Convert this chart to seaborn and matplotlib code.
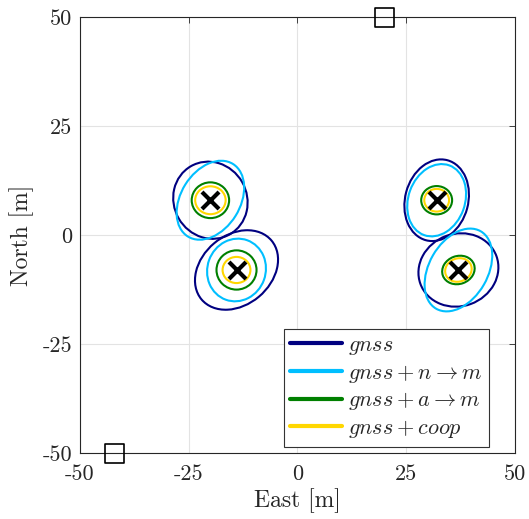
import numpy as np
import pandas as pd
import matplotlib
matplotlib.use('Agg')
import matplotlib.pyplot as plt
from matplotlib.patches import Ellipse
from matplotlib.lines import Line2D
import seaborn as sns

# agent positions [m]
agent_east = [-20, -14, 32, 37]
agent_north = [8, -8, 8, -8]

# anchor positions [m]
anchor_east = [20, -42]
anchor_north = [50, -50]

tick_vals = [-50, -25, 0, 25, 50]
tick_labels = ['-50', '-25', '0', '25', '50']

methods = ['gnss', 'gnss_n', 'gnss_a', 'coop']
labels = [r'$gnss$', r'$gnss + n \rightarrow m$', r'$gnss + a \rightarrow m$', r'$gnss + coop$']
colors = ['#000080', '#00BFFF', '#008000', '#FFD700']

# error ellipses per method: full width, full height [m], angle [deg], one per agent
ell_width = {
    'gnss':   [18.0, 21.0, 19.0, 18.6],
    'gnss_n': [19.6, 14.5, 17.0, 20.5],
    'gnss_a': [8.6, 9.2, 7.1, 7.6],
    'coop':   [7.0, 6.4, 5.7, 6.2],
}
ell_height = {
    'gnss':   [16.8, 16.0, 14.5, 16.6],
    'gnss_n': [13.6, 13.4, 13.0, 13.5],
    'gnss_a': [8.2, 9.0, 6.5, 6.4],
    'coop':   [6.4, 6.0, 5.2, 5.3],
}
ell_angle = {
    'gnss':   [120, 40, 75, 20],
    'gnss_n': [58, 70, 70, 60],
    'gnss_a': [0, 0, 0, 20],
    'coop':   [0, 0, 0, 20],
}

sns.set_style('white')
plt.rcParams['font.family'] = 'serif'
plt.rcParams['font.serif'] = ['cmr10', 'DejaVu Serif']
plt.rcParams['mathtext.fontset'] = 'cm'

fig = plt.figure(figsize=(5.29, 5.19), dpi=100)
ax = fig.add_axes([0.151, 0.127, 0.8225, 0.84])

# ellipses
for m, c in zip(methods, colors):
    for i in range(len(agent_east)):
        ax.add_patch(Ellipse((agent_east[i], agent_north[i]), ell_width[m][i], ell_height[m][i],
                             angle=ell_angle[m][i], fill=False, edgecolor=c, lw=1.5))

agents = pd.DataFrame({'east': agent_east, 'north': agent_north})
anchors = pd.DataFrame({'east': anchor_east, 'north': anchor_north})

sns.scatterplot(data=agents, x='east', y='north', marker='x', s=150,
                color='black', linewidth=3, ax=ax, zorder=5)
sns.scatterplot(data=anchors, x='east', y='north', marker='s', s=190,
                facecolor='none', edgecolor='black', linewidth=1.2, ax=ax,
                zorder=5, clip_on=False)

ax.set_xlim(-50, 50)
ax.set_ylim(-50, 50)
ax.set_xticks(tick_vals)
ax.set_xticklabels(tick_labels)
ax.set_yticks(tick_vals)
ax.set_yticklabels(tick_labels)
ax.grid(True, color='#e3e3e3', lw=0.8)
ax.set_axisbelow(True)
ax.tick_params(direction='in', top=True, right=True, labelsize=16, length=4, width=0.6,
               color='#262626')
ax.tick_params(axis='x', pad=8)
ax.tick_params(axis='y', pad=5.5)
for s in ax.spines.values():
    s.set_color('#262626')
    s.set_linewidth(0.8)
ax.set_xlabel('East [m]', fontsize=17, labelpad=3)
ax.set_ylabel('North [m]', fontsize=17, labelpad=6)

handles = [Line2D([0], [0], color=c, lw=3) for c in colors]
leg = ax.legend(handles, labels, loc='lower right', bbox_to_anchor=(0.945, 0.01),
                fontsize=16, handlelength=2.3, handletextpad=0.3,
                fancybox=False, framealpha=1, edgecolor='#333333',
                borderpad=0.3, labelspacing=0.25, borderaxespad=0.1)
leg.get_frame().set_linewidth(0.8)

fig.savefig('out.png', dpi=100)
